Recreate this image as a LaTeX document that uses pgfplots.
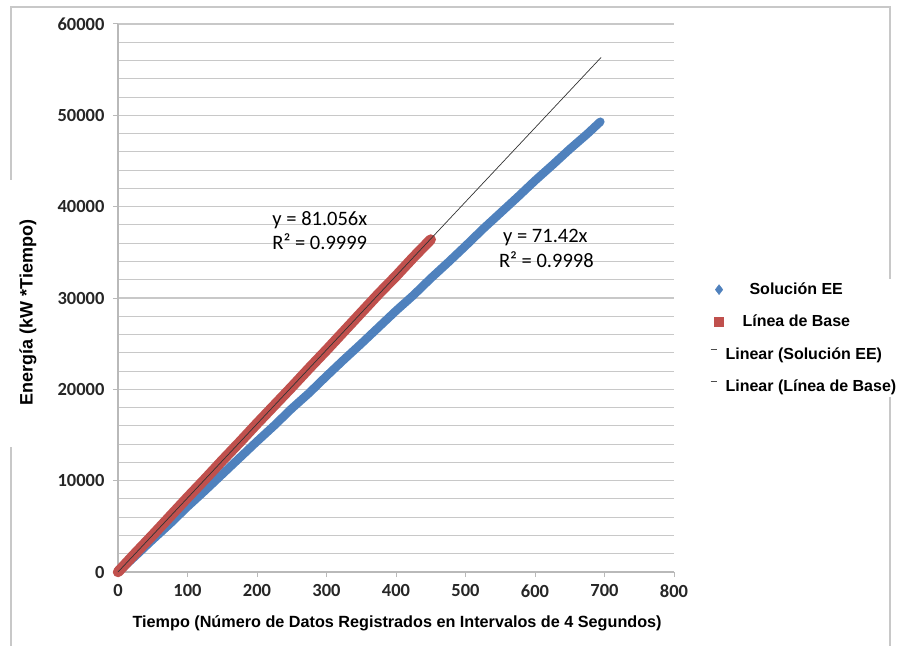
\documentclass[border=0pt]{standalone}
\usepackage{pgfplots}
\pgfplotsset{compat=1.18}
\usepackage{fontspec}
\setmainfont{Liberation Sans}
\newfontfamily\labfont{Liberation Sans}
\newfontfamily\calfont{Carlito}
\definecolor{eeblue}{RGB}{79,129,189}
\definecolor{basered}{RGB}{192,80,77}
\definecolor{gridgray}{RGB}{200,200,200}
\begin{document}
\begin{tikzpicture}
\path[use as bounding box] (-118pt,-74pt) rectangle (783pt,572pt);
% outer chart frame
\draw[gridgray, line width=1.2pt] (-107pt,392pt) -- (-107pt,565pt) -- (772pt,565pt) -- (772pt,-74pt);
\draw[gridgray, line width=1.2pt] (-107pt,125pt) -- (-107pt,-74pt);
\begin{axis}[
  at={(0pt,0pt)}, anchor=south west,
  scale only axis, width=556pt, height=548pt,
  xmin=0, xmax=800, ymin=0, ymax=60000,
  xtick={0,100,...,800},
  ytick={0,10000,...,60000},
  minor ytick={2000,4000,...,58000},
  ymajorgrids, yminorgrids,
  major grid style={gridgray, line width=1.3pt},
  minor grid style={gridgray, line width=1.1pt},
  axis x line*=bottom, axis y line*=left,
  axis line style={gridgray!80!gray, line width=1.2pt, -},
  tick align=outside,
  major tick length=5pt, minor tick length=0pt,
  tick style={gridgray!80!gray, line width=1pt},
  scaled y ticks=false, scaled x ticks=false,
  /pgf/number format/assume math mode=true,
  /pgf/number format/set thousands separator={},
  ticklabel style={font=\calfont\bfseries\fontsize{18.5}{18.5}\selectfont, text=black!85},
  yticklabel style={xshift=-5pt},
  xticklabel style={yshift=-4pt},
  xlabel={Tiempo (Número de Datos Registrados en Intervalos de 4 Segundos)},
  ylabel={Energía (kW *Tiempo)},
  xlabel style={font=\labfont\bfseries\fontsize{16.2}{16.2}\selectfont, at={(axis description cs:0.502,-0.093)}, anchor=center},
  ylabel style={font=\labfont\bfseries\fontsize{18}{18}\selectfont, at={(axis description cs:-0.162,0.474)}, anchor=center, rotate=0},
  clip=false,
  legend style={at={(1.061,0.535)}, anchor=north west, draw=none, fill=white,
    font=\labfont\bfseries\fontsize{16}{16}\selectfont, row sep=15pt,
    inner xsep=2pt, inner ysep=2pt},
  legend cell align=left,
]
% Solucion EE trendline (under the series)
\addplot[forget plot, black!80, line width=0.7pt] coordinates {(0,0) (695,49637)};
% Solucion EE series
\addplot[forget plot, eeblue, line width=8.5pt, line cap=round, line join=round] coordinates {
(0,0) (25,1750) (50,3550) (75,5300) (100,7150) (125,8900) (150,10700)
(175,12500) (200,14300) (225,16050) (250,17900) (275,19600) (300,21450)
(325,23250) (350,25000) (375,26800) (400,28600) (425,30300) (450,32150)
(475,33900) (500,35700) (525,37550) (550,39300) (575,41050) (600,42850)
(625,44550) (650,46300) (675,47950) (694,49300)};
% Linea de Base series
\addplot[forget plot, basered, line width=10.5pt, line cap=round, line join=round] coordinates {
(0,0) (25,2050) (50,4050) (75,6100) (100,8150) (125,10150) (150,12200)
(175,14200) (200,16250) (225,18250) (250,20250) (275,22300) (300,24300)
(325,26350) (350,28400) (375,30450) (400,32400) (425,34450) (450,36400)};
% Linea de Base trendline
\addplot[forget plot, black!80, line width=0.7pt] coordinates {(0,0) (695,56334)};
% annotations
\node[anchor=west, font=\calfont\fontsize{20.5}{20.5}\selectfont, inner sep=0pt] at (axis cs:222,38500) {y = 81.056x};
\node[anchor=west, font=\calfont\fontsize{20.5}{20.5}\selectfont, inner sep=0pt] at (axis cs:222,36150) {R² = 0.9999};
\node[anchor=west, font=\calfont\fontsize{20.5}{20.5}\selectfont, inner sep=0pt] at (axis cs:554,36650) {y = 71.42x};
\node[anchor=west, font=\calfont\fontsize{20.5}{20.5}\selectfont, inner sep=0pt] at (axis cs:548,34200) {R² = 0.9998};
% legend
\addlegendimage{only marks, mark=diamond*, mark size=5pt, eeblue, mark options={fill=eeblue}}
\addlegendentry{\hspace{24pt}Solución EE}
\addlegendimage{only marks, mark=square*, mark size=4.5pt, basered, mark options={fill=basered}}
\addlegendentry{\hspace{17pt}Línea de Base}
\addlegendimage{legend image code/.code={\draw[black!70, line width=0.8pt] (0pt,5pt) -- (6pt,5pt);}}
\addlegendentry{Linear (Solución EE)}
\addlegendimage{legend image code/.code={\draw[black!70, line width=0.8pt] (0pt,5pt) -- (6pt,5pt);}}
\addlegendentry{Linear (Línea de Base)}
\end{axis}
\end{tikzpicture}
\end{document}
